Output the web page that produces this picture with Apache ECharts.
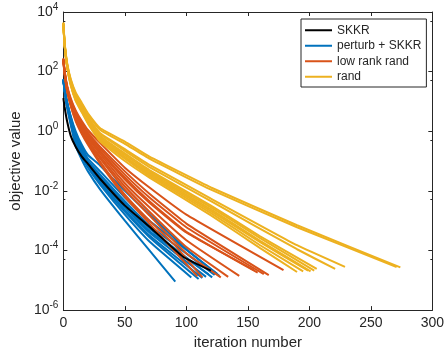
<!DOCTYPE html>
<html>
<head>
<meta charset="utf-8">
<script src="https://cdn.jsdelivr.net/npm/echarts@6/dist/echarts.min.js"></script>
<style>
  html, body { margin: 0; background: #fff; }
  #chart { width: 447px; height: 355px; }
</style>
</head>
<body>
<div id="chart"></div>
<script>
// each curve: [iteration, objective value] points
const skkrCurves = [
  [[0,13],[1,6.5],[3,2.2],[6,0.7],[10,0.3],[15,0.14],[20,0.08],[30,0.025],[50,3.2e-3],[70,6.3e-4],[97,6.3e-5],[120,2.1e-5]]
];

const perturbCurves = [
  [[0,50],[1,22],[3,6.3],[6,1.6],[10,0.32],[15,0.11],[20,0.045],[30,0.011],[50,1e-3],[70,1e-4],[91,9e-6]],
  [[0,50],[1,23],[3,7],[6,1.9],[10,0.4],[15,0.14],[20,0.06],[30,0.016],[50,1.6e-3],[70,2.0e-4],[104,1.25e-5]],
  [[0,52],[1,24],[3,7.5],[6,2.1],[10,0.45],[15,0.16],[20,0.065],[30,0.018],[50,2.0e-3],[70,2.8e-4],[110,1.1e-5]],
  [[0,52],[1,24],[3,7.8],[6,2.2],[10,0.5],[15,0.18],[20,0.07],[30,0.02],[50,2.3e-3],[70,3.2e-4],[113,1.2e-5]],
  [[0,53],[1,25],[3,8],[6,2.4],[10,0.55],[15,0.2],[20,0.08],[30,0.024],[50,2.8e-3],[70,4e-4],[116,1.3e-5]],
  [[0,53],[1,25],[3,8.3],[6,2.5],[10,0.6],[15,0.21],[20,0.085],[30,0.026],[50,3.2e-3],[70,4.5e-4],[118,1.6e-5]],
  [[0,54],[1,26],[3,8.6],[6,2.7],[10,0.65],[15,0.23],[20,0.09],[30,0.03],[50,3.8e-3],[70,5.5e-4],[121,1.25e-5]],
  [[0,55],[1,26],[3,9],[6,2.8],[10,0.7],[15,0.25],[20,0.1],[30,0.035],[50,4.5e-3],[70,7e-4],[123,1.5e-5]],
  [[0,55],[1,27],[3,9.5],[6,3],[10,0.8],[15,0.3],[20,0.12],[30,0.045],[50,6e-3],[70,1e-3],[125,1.65e-5]],
  [[0,56],[1,28],[3,10],[6,3.2],[10,1],[15,0.35],[20,0.16],[30,0.07],[50,0.01],[70,1.6e-3],[100,1.1e-4],[127,1.4e-5]]
];

const lowRankCurves = [
  [[0,220],[1,80],[3,22],[6,7],[10,2.2],[15,0.8],[20,0.35],[30,0.08],[50,6.3e-3],[70,8e-4],[90,1e-4],[109,1.35e-5]],
  [[0,230],[1,85],[3,24],[6,7.5],[10,2.4],[15,0.9],[20,0.4],[30,0.095],[50,7.5e-3],[70,1.0e-3],[90,1.6e-4],[113,1.25e-5]],
  [[0,240],[1,90],[3,26],[6,8],[10,2.7],[15,1.0],[20,0.45],[30,0.12],[50,0.011],[70,1.5e-3],[100,8e-5],[128,1.25e-5]],
  [[0,240],[1,92],[3,27],[6,8.5],[10,2.9],[15,1.1],[20,0.5],[30,0.14],[50,0.014],[70,2.0e-3],[100,1.3e-4],[134,1.3e-5]],
  [[0,250],[1,95],[3,28],[6,9],[10,3.2],[15,1.25],[20,0.58],[30,0.17],[50,0.018],[70,2.8e-3],[100,2.2e-4],[143,1.4e-5]],
  [[0,260],[1,98],[3,29],[6,9.5],[10,3.5],[15,1.4],[20,0.65],[30,0.2],[50,0.024],[70,4.0e-3],[100,4.0e-4],[155,2.2e-5]],
  [[0,260],[1,100],[3,30],[6,10],[10,3.7],[15,1.5],[20,0.7],[30,0.22],[50,0.028],[70,4.5e-3],[100,4.2e-4],[158,1.8e-5]],
  [[0,270],[1,102],[3,31],[6,10.5],[10,4.0],[15,1.7],[20,0.8],[30,0.26],[50,0.035],[70,6.0e-3],[100,6.0e-4],[163,1.6e-5]],
  [[0,270],[1,105],[3,32],[6,11.5],[10,4.5],[15,1.9],[20,0.9],[30,0.3],[50,0.045],[70,8e-3],[100,8e-4],[167,1.5e-5]],
  [[0,280],[1,110],[3,35],[6,12.6],[10,5],[15,2.2],[20,1.1],[30,0.4],[50,0.06],[70,0.013],[100,1.6e-3],[179,2.2e-5]]
];

const randCurves = [
  [[0,4500],[1,1000],[3,200],[6,56],[10,20],[15,8.9],[20,4],[30,1.26],[50,0.45],[70,0.14],[120,0.013],[190,7.0e-4],[274,2.7e-5]],
  [[0,4300],[1,950],[3,190],[6,52],[10,18],[15,8],[20,3.6],[30,1.1],[50,0.38],[70,0.12],[120,0.011],[190,6.0e-4],[271,2.8e-5]],
  [[0,4200],[1,900],[3,180],[6,48],[10,16],[15,6.8],[20,3.0],[30,0.85],[50,0.25],[70,0.075],[120,5.5e-3],[190,1.5e-4],[229,2.8e-5]],
  [[0,4200],[1,880],[3,175],[6,46],[10,15],[15,6.3],[20,2.8],[30,0.8],[50,0.22],[70,0.063],[120,4.5e-3],[190,1.1e-4],[221,2.4e-5]],
  [[0,4000],[1,850],[3,170],[6,44],[10,14],[15,6],[20,2.6],[30,0.7],[50,0.18],[70,0.05],[120,3.2e-3],[160,3.0e-4],[206,2.4e-5]],
  [[0,4000],[1,820],[3,165],[6,42],[10,13],[15,5.5],[20,2.4],[30,0.63],[50,0.16],[70,0.045],[120,2.8e-3],[160,2.6e-4],[204,2.1e-5]],
  [[0,3900],[1,800],[3,160],[6,40],[10,12.5],[15,5.2],[20,2.2],[30,0.58],[50,0.14],[70,0.04],[120,2.4e-3],[160,2.1e-4],[201,2.0e-5]],
  [[0,3900],[1,780],[3,155],[6,38],[10,12],[15,5],[20,2.1],[30,0.55],[50,0.13],[70,0.036],[120,2.1e-3],[160,1.9e-4],[199,2.1e-5]],
  [[0,3800],[1,760],[3,150],[6,36],[10,11],[15,4.6],[20,1.9],[30,0.5],[50,0.12],[70,0.032],[120,1.8e-3],[160,1.5e-4],[195,2.0e-5]],
  [[0,3800],[1,740],[3,145],[6,35],[10,10.5],[15,4.3],[20,1.8],[30,0.45],[50,0.1],[70,0.028],[120,1.5e-3],[160,1.2e-4],[190,1.9e-5]]
];

const legendNames = ['SKKR', 'perturb + SKKR', 'low rank rand', 'rand'];

const textColor = '#262626';

// drawn back to front
const groups = [
  { name: 'perturb + SKKR', color: '#0072BD', curves: perturbCurves },
  { name: 'low rank rand', color: '#D95319', curves: lowRankCurves },
  { name: 'rand', color: '#EDB120', curves: randCurves },
  { name: 'SKKR', color: '#000000', curves: skkrCurves }
];

const series = [];
groups.forEach(function (g) {
  g.curves.forEach(function (c) {
    series.push({
      type: 'line',
      name: g.name,
      data: c,
      symbol: 'none',
      smooth: 0.12,
      color: g.color,
      lineStyle: { color: g.color, width: 2 },
      animation: false
    });
  });
});

const axisLine = { show: true, onZero: false, lineStyle: { color: textColor, width: 1 } };
const tick = { show: true, inside: true, length: 4, lineStyle: { color: textColor } };

const chart = echarts.init(document.getElementById('chart'));
chart.setOption({
  animation: false,
  grid: { left: 57, right: 11, top: 12, bottom: 43 },
  legend: {
    data: legendNames,
    orient: 'vertical',
    left: 301,
    top: 19,
    icon: 'rect',
    itemWidth: 27,
    itemHeight: 2,
    itemGap: 3,
    padding: [5, 5, 4, 4],
    borderColor: textColor,
    borderWidth: 1,
    backgroundColor: '#fff',
    textStyle: { fontFamily: 'Liberation Sans', fontSize: 12, color: textColor, lineHeight: 12.5 }
  },
  xAxis: [{
    type: 'value', min: 0, max: 300, interval: 50, position: 'bottom',
    axisLine: axisLine, axisTick: tick, splitLine: { show: false },
    axisLabel: { color: textColor, fontFamily: 'Liberation Sans', fontSize: 14, margin: 6 },
    name: 'iteration number', nameLocation: 'middle', nameGap: 23,
    nameTextStyle: { color: textColor, fontFamily: 'Liberation Sans', fontSize: 15 }
  }, {
    type: 'value', min: 0, max: 300, interval: 50, position: 'top',
    axisLine: axisLine, axisTick: tick, splitLine: { show: false }, axisLabel: { show: false }
  }],
  yAxis: [{
    type: 'log', min: 1e-6, max: 1e4, interval: 2, position: 'left',
    axisLine: axisLine, axisTick: tick, splitLine: { show: false },
    minorTick: { show: true, splitNumber: 2, length: 2, lineStyle: { color: textColor } },
    axisLabel: {
      color: textColor, fontFamily: 'Liberation Sans', margin: 5,
      formatter: function (v) {
        return '{b|10}{sup|' + Math.round(Math.log10(v)) + '}';
      },
      rich: {
        b: { fontSize: 14, fontFamily: 'Liberation Sans', color: textColor },
        sup: { fontSize: 10, fontFamily: 'Liberation Sans', color: textColor, padding: [0, 0, 10, 0] }
      }
    },
    name: 'objective value', nameLocation: 'middle', nameGap: 36,
    nameTextStyle: { color: textColor, fontFamily: 'Liberation Sans', fontSize: 15 }
  }, {
    type: 'log', min: 1e-6, max: 1e4, interval: 2, position: 'right',
    axisLine: axisLine, axisTick: tick, splitLine: { show: false }, axisLabel: { show: false },
    minorTick: { show: true, splitNumber: 2, length: 2, lineStyle: { color: textColor } }
  }],
  series: series
});
</script>
</body>
</html>
